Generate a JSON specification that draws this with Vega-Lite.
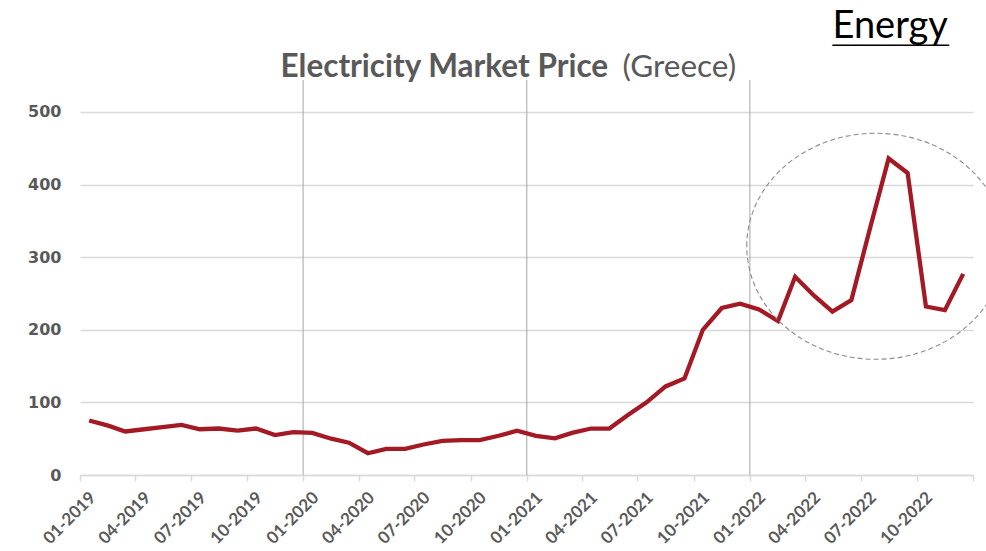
{
  "$schema": "https://vega.github.io/schema/vega-lite/v6.json",
  "width": 893,
  "height": 395,
  "autosize": {"type": "none"},
  "padding": {"left": 80, "top": 80, "right": 13, "bottom": 76},
  "background": "white",
  "config": {"view": {"stroke": null}},
  "datasets": {
    "prices": [
      {"date": "2019-01-16", "price": 75}, {"date": "2019-02-16", "price": 68}, {"date": "2019-03-16", "price": 60},
      {"date": "2019-04-16", "price": 63}, {"date": "2019-05-16", "price": 66}, {"date": "2019-06-16", "price": 69},
      {"date": "2019-07-16", "price": 63}, {"date": "2019-08-16", "price": 64}, {"date": "2019-09-16", "price": 61},
      {"date": "2019-10-16", "price": 64}, {"date": "2019-11-16", "price": 55}, {"date": "2019-12-16", "price": 59},
      {"date": "2020-01-16", "price": 58}, {"date": "2020-02-16", "price": 50}, {"date": "2020-03-16", "price": 44.5},
      {"date": "2020-04-16", "price": 30}, {"date": "2020-05-16", "price": 36}, {"date": "2020-06-16", "price": 36},
      {"date": "2020-07-16", "price": 42}, {"date": "2020-08-16", "price": 47}, {"date": "2020-09-16", "price": 48},
      {"date": "2020-10-16", "price": 48}, {"date": "2020-11-16", "price": 54}, {"date": "2020-12-16", "price": 61},
      {"date": "2021-01-16", "price": 54}, {"date": "2021-02-16", "price": 50.5}, {"date": "2021-03-16", "price": 58},
      {"date": "2021-04-16", "price": 64}, {"date": "2021-05-16", "price": 64}, {"date": "2021-06-16", "price": 83},
      {"date": "2021-07-16", "price": 100}, {"date": "2021-08-16", "price": 122}, {"date": "2021-09-16", "price": 133},
      {"date": "2021-10-16", "price": 200}, {"date": "2021-11-16", "price": 230}, {"date": "2021-12-16", "price": 236},
      {"date": "2022-01-16", "price": 228}, {"date": "2022-02-16", "price": 212}, {"date": "2022-03-16", "price": 273},
      {"date": "2022-04-16", "price": 247}, {"date": "2022-05-16", "price": 225}, {"date": "2022-06-16", "price": 241},
      {"date": "2022-07-16", "price": 338}, {"date": "2022-08-16", "price": 436}, {"date": "2022-09-16", "price": 416},
      {"date": "2022-10-16", "price": 232}, {"date": "2022-11-16", "price": 227}, {"date": "2022-12-16", "price": 277}
    ],
    "years": [
      {"date": "2020-01-01"}, {"date": "2021-01-01"}, {"date": "2022-01-01"}
    ],
    "highlight": [
      {"date": "2022-07-26", "price": 315}
    ]
  },
  "resolve": {"axis": {"x": "independent", "y": "independent"}},
  "layer": [
    {
      "data": {"name": "years"},
      "mark": {"type": "rule", "color": "#a6a6a6", "strokeWidth": 1},
      "encoding": {
        "x": {
          "field": "date", "type": "temporal", "axis": null,
          "scale": {"type": "utc", "domain": [{"year": 2019, "month": 1, "date": 1, "utc": true}, {"year": 2023, "month": 1, "date": 1, "utc": true}]}
        }
      }
    },
    {
      "data": {"name": "prices"},
      "mark": {"type": "line", "color": "#a31a25", "strokeWidth": 4.3, "strokeJoin": "miter"},
      "encoding": {
        "x": {
          "field": "date", "type": "temporal",
          "scale": {"type": "utc", "domain": [{"year": 2019, "month": 1, "date": 1, "utc": true}, {"year": 2023, "month": 1, "date": 1, "utc": true}]},
          "axis": {
            "title": "__________",
            "titleX": 752,
            "titleY": -435,
            "titleAlign": "left",
            "titleBaseline": "alphabetic",
            "titleAngle": 0,
            "titleFont": "DejaVu Sans",
            "titleFontWeight": "normal",
            "titleFontSize": 23.3,
            "titleColor": "#000000",
            "values": [
              {"year": 2019, "month": 1, "date": 1, "utc": true}, {"year": 2019, "month": 4, "date": 1, "utc": true},
              {"year": 2019, "month": 7, "date": 1, "utc": true}, {"year": 2019, "month": 10, "date": 1, "utc": true},
              {"year": 2020, "month": 1, "date": 1, "utc": true}, {"year": 2020, "month": 4, "date": 1, "utc": true},
              {"year": 2020, "month": 7, "date": 1, "utc": true}, {"year": 2020, "month": 10, "date": 1, "utc": true},
              {"year": 2021, "month": 1, "date": 1, "utc": true}, {"year": 2021, "month": 4, "date": 1, "utc": true},
              {"year": 2021, "month": 7, "date": 1, "utc": true}, {"year": 2021, "month": 10, "date": 1, "utc": true},
              {"year": 2022, "month": 1, "date": 1, "utc": true}, {"year": 2022, "month": 4, "date": 1, "utc": true},
              {"year": 2022, "month": 7, "date": 1, "utc": true}, {"year": 2022, "month": 10, "date": 1, "utc": true},
              {"year": 2023, "month": 1, "date": 1, "utc": true}
            ],
            "labelExpr": "utcyear(datum.value) >= 2023 ? '' : utcFormat(datum.value, '%m-%Y')",
            "labelAngle": -45,
            "labelFont": "Lato",
            "labelFontWeight": "bold",
            "labelFontSize": 17,
            "labelColor": "#595959",
            "labelPadding": 8,
            "labelOffset": 7,
            "labelOverlap": false,
            "labelFlush": false,
            "domainColor": "#d9d9d9",
            "domainWidth": 1.5,
            "tickColor": "#d9d9d9",
            "tickWidth": 1.5,
            "tickSize": 6,
            "grid": false
          }
        },
        "y": {
          "field": "price", "type": "quantitative",
          "scale": {"domain": [0, 544], "nice": false},
          "axis": {
            "values": [0, 100, 200, 300, 400, 500],
            "title": "Electricity Market Price",
            "titleAngle": 0,
            "titleX": 200,
            "titleY": -4,
            "titleAlign": "left",
            "titleBaseline": "alphabetic",
            "titleFont": "Lato",
            "titleFontWeight": "bold",
            "titleFontSize": 31.5,
            "titleColor": "#595959",
            "labelFont": "DejaVu Sans",
            "labelFontWeight": "bold",
            "labelFontSize": 16,
            "labelColor": "#595959",
            "labelPadding": 19,
            "domain": false,
            "ticks": false,
            "grid": true,
            "gridColor": "#d9d9d9",
            "gridWidth": 1.5
          }
        }
      }
    },
    {
      "data": {"name": "highlight"},
      "mark": {
        "type": "point",
        "shape": "M -1.142 0 C -1.142 -0.552 -0.631 -1 0 -1 C 0.631 -1 1.142 -0.552 1.142 0 C 1.142 0.552 0.631 1 0 1 C -0.631 1 -1.142 0.552 -1.142 0 Z",
        "size": 51076,
        "filled": false,
        "opacity": 1,
        "stroke": "#8c8c8c",
        "strokeWidth": 1.1,
        "strokeDash": [5, 3]
      },
      "encoding": {
        "x": {
          "field": "date", "type": "temporal",
          "scale": {"type": "utc", "domain": [{"year": 2019, "month": 1, "date": 1, "utc": true}, {"year": 2023, "month": 1, "date": 1, "utc": true}]},
          "axis": {
            "orient": "top",
            "title": "(Greece)",
            "titleX": 542,
            "titleY": -4,
            "titleAlign": "left",
            "titleBaseline": "alphabetic",
            "titleFont": "Lato",
            "titleFontWeight": "normal",
            "titleFontSize": 31.5,
            "titleColor": "#595959",
            "labels": false,
            "ticks": false,
            "domain": false,
            "grid": false
          }
        },
        "y": {
          "field": "price", "type": "quantitative",
          "scale": {"domain": [0, 544], "nice": false},
          "axis": {
            "orient": "right",
            "title": "Energy",
            "titleAngle": 0,
            "titleX": -141,
            "titleY": -43,
            "titleAlign": "left",
            "titleBaseline": "alphabetic",
            "titleFont": "Lato",
            "titleFontWeight": "normal",
            "titleFontSize": 38,
            "titleColor": "#000000",
            "labels": false,
            "ticks": false,
            "domain": false,
            "grid": false
          }
        }
      }
    }
  ]
}
